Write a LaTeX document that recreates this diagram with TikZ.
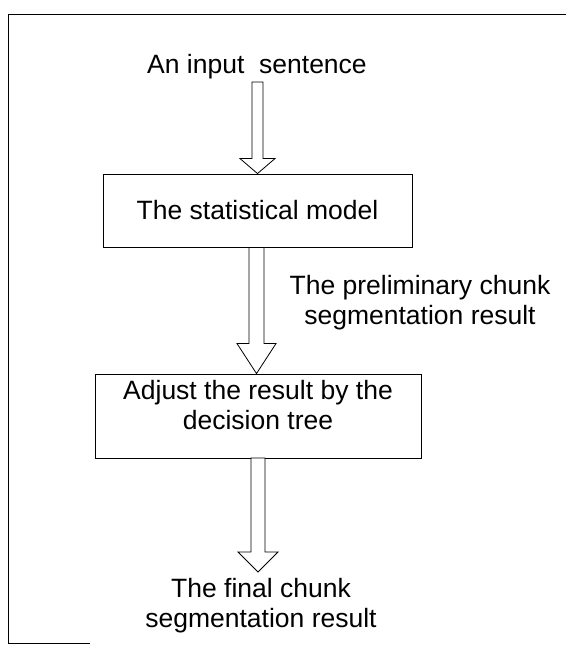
\documentclass[tikz,border=0pt]{standalone}
\usepackage{fontspec}
\setmainfont{Liberation Sans}
\usetikzlibrary{calc}

% hollow block arrow from the point #1 straight down to the point #2
% #3 = half shaft width, #4 = half head width, #5 = head length (all pt)
\newcommand\hollowarrow[5]{%
  \path[blockarrow] let \p1=(#1), \p2=(#2) in
    (\x1-#3pt,\y1) -- (\x1+#3pt,\y1) -- (\x1+#3pt,\y2+#5pt) --
    (\x1+#4pt,\y2+#5pt) -- (\x1,\y2) -- (\x1-#4pt,\y2+#5pt) --
    (\x1-#3pt,\y2+#5pt) -- cycle;}

\begin{document}
\begin{tikzpicture}[x=1pt,y=-1pt,
  txt/.style={font=\fontsize{26.5}{30}\selectfont, align=center, inner sep=0pt},
  stage/.style={draw, line width=0.9pt, inner sep=0pt},
  blockarrow/.style={draw, line width=0.8pt, fill=white, line join=miter},
  frameline/.style={line width=0.9pt}]
\useasboundingbox (0,0) rectangle (566,648);

% outer frame (open on the right)
\coordinate (ftr) at (566,14);
\coordinate (ftl) at (8,14);
\coordinate (fbl) at (8,643);
\coordinate (fbr) at (90,643);
\draw[frameline] (ftr) -- (ftl) -- (fbl) -- (fbr);

% texts and stages
\node[txt, anchor=base] (input) at (257,73) {An input\ \ sentence};
\node[stage, minimum width=309pt, minimum height=73pt] (model) at (257.5,210.5) {};
\node[txt] (modeltxt) at (257.5,210.5) {The statistical model};
\node[txt] (prelim) at (420,303) {The preliminary chunk\\segmentation result};
\node[stage, minimum width=326pt, minimum height=84pt] (adjust) at (258,416) {};
\node[txt] (adjusttxt) at (258,405) {Adjust the result by the\\decision tree};
\node[txt] (final) at (261,606) {The final chunk\\segmentation result};

% connectors
\coordinate (a1) at (257.5,82);
\hollowarrow{a1}{model.north}{5.5}{17.5}{15}
\hollowarrow{$(model.south)+(-1,0)$}{adjust.north}{7.5}{19.5}{30}
\coordinate (a3) at (258,458);
\coordinate (a3end) at (258,572);
\hollowarrow{a3}{a3end}{7}{20}{20}
\end{tikzpicture}
\end{document}
